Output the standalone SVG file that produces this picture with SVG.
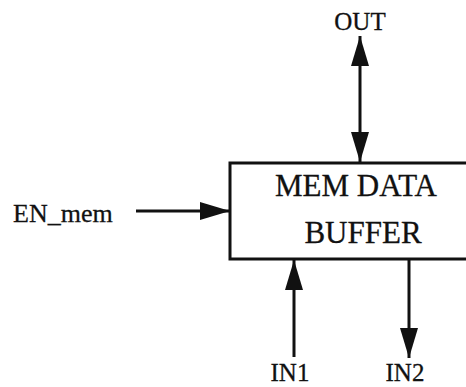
<svg xmlns="http://www.w3.org/2000/svg" width="466" height="387" viewBox="0 0 466 387">
  <style>
    .lbl { font-family: "Liberation Serif", "Times New Roman", serif; fill: #111; stroke: #111; stroke-width: 0.3; }
    .box { fill: #fff; stroke: #111; stroke-width: 3; }
    .wire { stroke: #111; stroke-width: 3; fill: none; }
  </style>
  <defs>
    <marker id="head" viewBox="0 0 30 18" refX="30" refY="9" markerWidth="30" markerHeight="18" markerUnits="userSpaceOnUse" orient="auto-start-reverse">
      <path d="M0,0 L30,9 L0,18 Z" fill="#111"/>
    </marker>
  </defs>
  <rect width="466" height="387" fill="#fff"/>

  <g id="buffer">
    <rect class="box" x="230" y="163" width="250" height="96"/>
    <text class="lbl" x="356" y="196" font-size="31" text-anchor="middle">MEM DATA</text>
    <text class="lbl" x="363" y="243" font-size="31" text-anchor="middle">BUFFER</text>
  </g>

  <g id="out"><text class="lbl" x="360" y="30" font-size="25" text-anchor="middle">OUT</text></g>
  <g id="en_mem"><text class="lbl" x="13" y="222" font-size="26">EN_mem</text></g>
  <g id="in1"><text class="lbl" x="290" y="381" font-size="25" text-anchor="middle">IN1</text></g>
  <g id="in2"><text class="lbl" x="405" y="381" font-size="25" text-anchor="middle">IN2</text></g>

  <g id="connectors">
    <line class="wire" x1="360" y1="36" x2="360" y2="162" marker-start="url(#head)" marker-end="url(#head)"/>
    <line class="wire" x1="136" y1="211" x2="230" y2="211" marker-end="url(#head)"/>
    <line class="wire" x1="294" y1="357" x2="294" y2="260" marker-end="url(#head)"/>
    <line class="wire" x1="409" y1="260" x2="409" y2="358" marker-end="url(#head)"/>
  </g>
</svg>
